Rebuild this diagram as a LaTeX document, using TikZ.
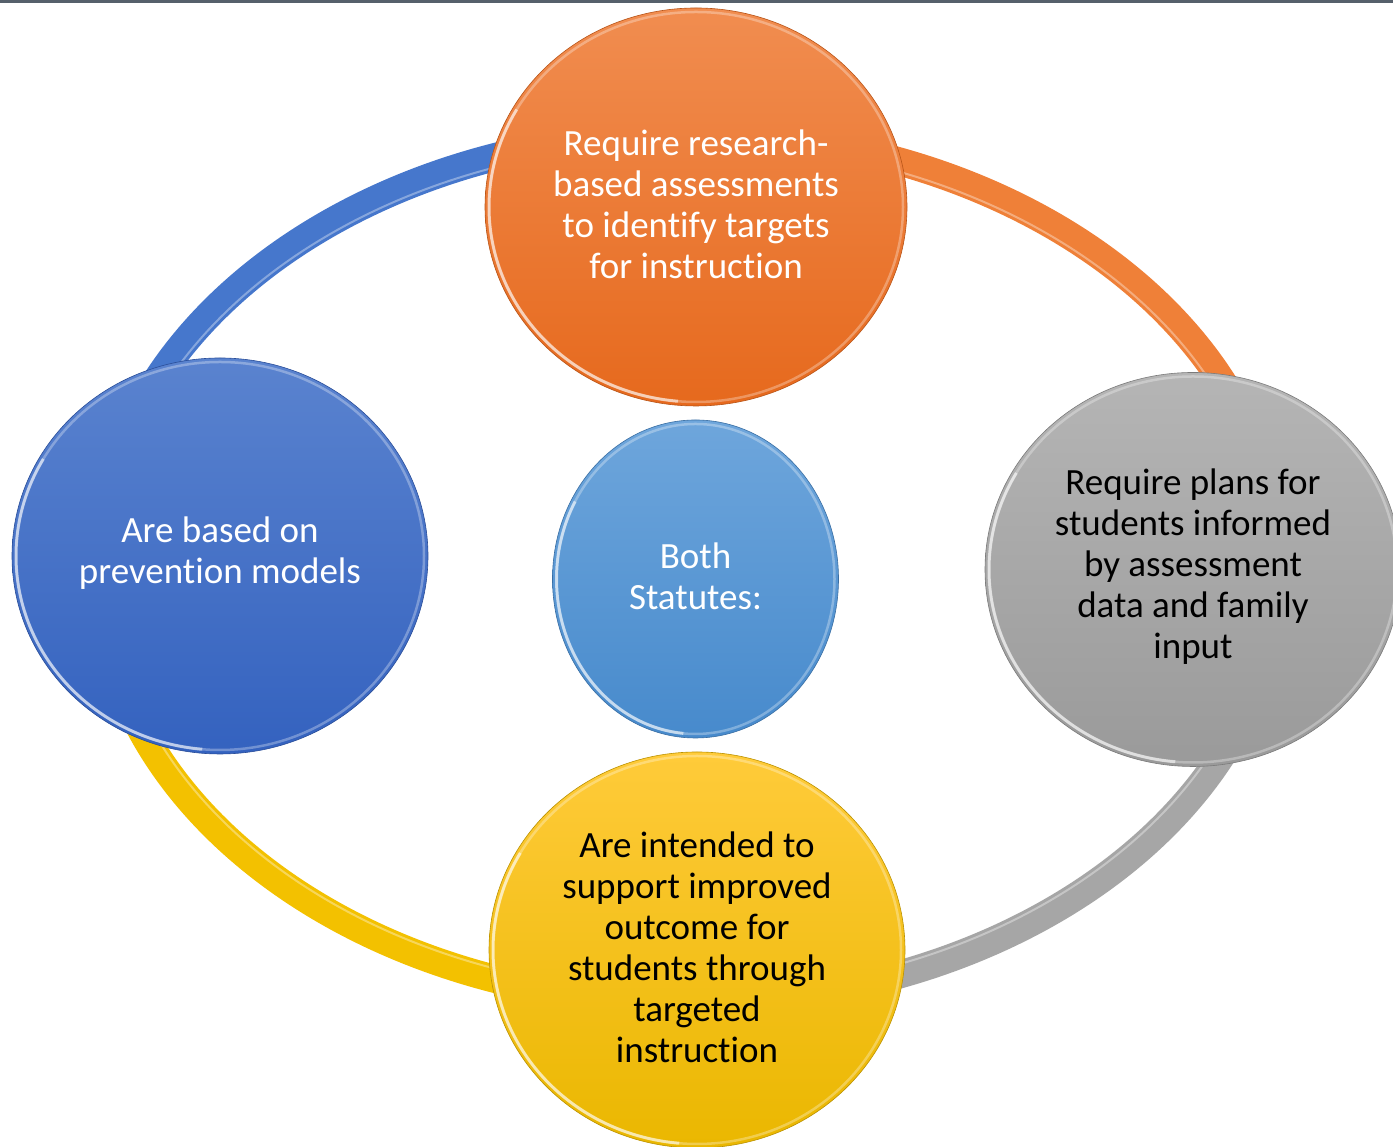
\documentclass[tikz,border=0pt]{standalone}
\usepackage{fontspec}
\setmainfont{Carlito}[Ligatures=NoCommon]
\usetikzlibrary{shapes.geometric}
\definecolor{topline}{HTML}{56606B}
\definecolor{ringblue}{HTML}{4677CC}
\definecolor{ringorange}{HTML}{EF8038}
\definecolor{ringgray}{HTML}{A6A6A6}
\definecolor{ringyellow}{HTML}{F3C100}
\definecolor{orTop}{HTML}{F18D50}
\definecolor{orBot}{HTML}{E6691D}
\definecolor{blTop}{HTML}{5A83CF}
\definecolor{blBot}{HTML}{3462BF}
\definecolor{cbTop}{HTML}{6EA6DC}
\definecolor{cbBot}{HTML}{478ACC}
\definecolor{grTop}{HTML}{B5B5B5}
\definecolor{grBot}{HTML}{9A9A9A}
\definecolor{ylTop}{HTML}{FFCB3A}
\definecolor{ylBot}{HTML}{EAB700}
\newcommand\myrim[3]{%
  \draw[white, opacity=0.3, line width=2.5pt] (#1.center) ellipse[x radius=#2pt, y radius=#3pt];
  \draw[white, opacity=0.55, line width=3pt] (#1.center) ++(150:#2pt and #3pt)
    arc[start angle=150, end angle=265, x radius=#2pt, y radius=#3pt];}
\begin{document}
\begin{tikzpicture}[x=1pt,y=1pt,
  bubble/.style={ellipse, inner sep=0pt, outer sep=0pt, line width=0.6pt},
  txt/.style={align=center, font=\fontsize{37}{41}\selectfont, inner sep=0pt, yshift=3pt},
  ring/.style={line width=28pt},
  ringhl/.style={white, opacity=0.35, line width=2pt}]
\useasboundingbox (0,0) rectangle (1393,1147);
\fill[white] (0,0) rectangle (1393,1147);
\fill[topline] (0,1144) rectangle (1393,1147);

% ring
\coordinate (E) at (689,579);
\draw[ring, ringblue] (E) ++(90:590pt and 435pt) arc[start angle=90, end angle=180, x radius=590pt, y radius=435pt];
\draw[ring, ringorange] (E) ++(0:590pt and 435pt) arc[start angle=0, end angle=90, x radius=590pt, y radius=435pt];
\draw[ring, ringgray] (E) ++(270:590pt and 435pt) arc[start angle=270, end angle=360, x radius=590pt, y radius=435pt];
\draw[ring, ringyellow] (E) ++(180:590pt and 435pt) arc[start angle=180, end angle=270, x radius=590pt, y radius=435pt];
\draw[ringhl] (E) ellipse[x radius=580pt, y radius=425pt];

% circles
\node[bubble, minimum width=422pt, minimum height=398pt, top color=orTop, bottom color=orBot, draw=orBot!80!black] (orange) at (696,940) {};
\node[bubble, minimum width=416pt, minimum height=396pt, top color=blTop, bottom color=blBot, draw=blBot!80!black] (blue) at (220,591) {};
\node[bubble, minimum width=286pt, minimum height=318pt, top color=cbTop, bottom color=cbBot, draw=cbBot!80!black] (center) at (695.5,568) {};
\node[bubble, minimum width=416pt, minimum height=394pt, top color=grTop, bottom color=grBot, draw=grBot!80!black] (gray) at (1193,577.5) {};
\node[bubble, minimum width=416pt, minimum height=396pt, top color=ylTop, bottom color=ylBot, draw=ylBot!80!black] (yellow) at (697,197) {};

\myrim{orange}{207}{195}
\myrim{blue}{204}{194}
\myrim{center}{139}{155}
\myrim{gray}{204}{193}
\myrim{yellow}{204}{194}

% texts
\node[txt, text=white] (torange) at (orange.center) {Require research-\\based assessments\\to identify targets\\for instruction};
\node[txt, text=white] (tblue) at (blue.center) {Are based on\\prevention models};
\node[txt, text=white] (tcenter) at (center.center) {Both\\Statutes:};
\node[txt, text=black] (tgray) at (gray.center) {Require plans for\\students informed\\by assessment\\data and family\\input};
\node[txt, text=black] (tyellow) at (yellow.center) {Are intended to\\support improved\\outcome for\\students through\\targeted\\instruction};
\end{tikzpicture}
\end{document}
